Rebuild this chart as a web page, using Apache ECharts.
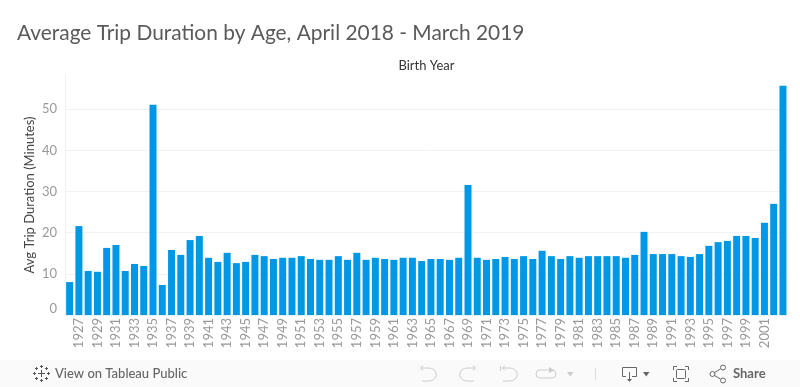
<!DOCTYPE html>
<html>
<head>
<meta charset="utf-8">
<title>Average Trip Duration by Age</title>
<style>
  html, body { margin: 0; padding: 0; background: #fff; }
  #chart { width: 800px; height: 387px; }
</style>
<script src="https://cdn.jsdelivr.net/npm/echarts@6/dist/echarts.min.js"></script>
</head>
<body>
<div id="chart"></div>
<script>
const birthYears = [
  1926, 1927, 1928, 1929, 1930, 1931, 1932, 1933, 1934, 1935, 1936, 1937, 1938,
  1939, 1940, 1941, 1942, 1943, 1944, 1945, 1946, 1947, 1948, 1949, 1950, 1951,
  1952, 1953, 1954, 1955, 1956, 1957, 1958, 1959, 1960, 1961, 1962, 1963, 1964,
  1965, 1966, 1967, 1968, 1969, 1970, 1971, 1972, 1973, 1974, 1975, 1976, 1977,
  1978, 1979, 1980, 1981, 1982, 1983, 1984, 1985, 1986, 1987, 1988, 1989, 1990,
  1991, 1992, 1993, 1994, 1995, 1996, 1997, 1998, 1999, 2000, 2001, 2002, 2003
];
const avgDuration = [
  8.0, 21.6, 10.7, 10.5, 16.3, 17.0, 10.7, 12.4, 11.9, 51.05, 7.3, 15.8, 14.6,
  18.2, 19.2, 13.9, 12.9, 15.1, 12.6, 12.9, 14.6, 14.3, 13.6, 13.9, 13.9, 14.3,
  13.6, 13.4, 13.4, 14.3, 13.4, 15.1, 13.4, 13.9, 13.6, 13.4, 13.9, 13.9, 13.1,
  13.6, 13.6, 13.4, 13.9, 31.6, 13.9, 13.4, 13.6, 14.1, 13.6, 14.3, 13.6, 15.6,
  14.3, 13.6, 14.3, 13.9, 14.3, 14.3, 14.3, 14.3, 13.9, 14.6, 20.2, 14.8, 14.8,
  14.8, 14.3, 14.1, 14.8, 16.8, 17.7, 18.0, 19.2, 19.2, 18.7, 22.4, 27.0, 55.7
];

const FONT = 'Lato, "Open Sans", sans-serif';
const ICON_ON = '#666666';
const ICON_OFF = '#cccccc';

// toolbar icons are plain strokes, nothing here is chart data
function stroke(color) {
  return { stroke: color, fill: 'none', lineWidth: 1 };
}
function poly(points, color) {
  return { type: 'polyline', shape: { points: points }, style: stroke(color), silent: true };
}
function tri(points, color) {
  return { type: 'polygon', shape: { points: points }, style: { fill: color }, silent: true };
}
function cross(x, y, r, color) {
  return [poly([[x - r, y], [x + r, y]], color), poly([[x, y - r], [x, y + r]], color)];
}
// half-loop used by the undo/redo arrows, dir 1 bulges right, -1 bulges left
function loop(x, y, dir, color) {
  return {
    type: 'bezierCurve',
    shape: { x1: x, y1: y, cpx1: x + dir * 11, cpy1: y, cpx2: x + dir * 11, cpy2: y + 13, x2: x, y2: y + 13 },
    style: stroke(color),
    silent: true
  };
}

const logo = [].concat(
  cross(41.5, 373.5, 3.5, '#555'),
  cross(41.5, 366.5, 1.5, '#555'),
  cross(41.5, 380.5, 1.5, '#555'),
  cross(34.5, 373.5, 1.5, '#555'),
  cross(48.5, 373.5, 1.5, '#555'),
  cross(36.5, 368.5, 1.5, '#555'),
  cross(46.5, 368.5, 1.5, '#555'),
  cross(36.5, 378.5, 1.5, '#555'),
  cross(46.5, 378.5, 1.5, '#555')
);

const toolbar = [
  { type: 'rect', shape: { x: 0, y: 360, width: 800, height: 27 }, style: { fill: '#fafafa' }, silent: true },
  { type: 'text', x: 55, y: 374, style: { text: 'View on Tableau Public', fill: '#666', font: '500 13px ' + FONT, verticalAlign: 'middle' } },
  // undo / redo / revert / refresh
  poly([[421, 368], [428, 368]], ICON_OFF),
  loop(428, 368, 1, ICON_OFF),
  poly([[422, 381], [428, 381]], ICON_OFF),
  poly([[423, 365.5], [420.5, 368], [423, 370.5]], ICON_OFF),
  poly([[475, 368], [468, 368]], ICON_OFF),
  loop(468, 368, -1, ICON_OFF),
  poly([[468, 381], [474, 381]], ICON_OFF),
  poly([[473, 365.5], [475.5, 368], [473, 370.5]], ICON_OFF),
  poly([[502, 368], [509, 368]], ICON_OFF),
  loop(509, 368, 1, ICON_OFF),
  poly([[503, 381], [509, 381]], ICON_OFF),
  poly([[500.5, 366], [500.5, 371]], ICON_OFF),
  poly([[505, 365.5], [502.5, 368], [505, 370.5]], ICON_OFF),
  { type: 'rect', shape: { x: 536, y: 370, width: 20, height: 8, r: 4 }, style: stroke(ICON_OFF), silent: true },
  tri([[549, 367], [554, 370], [549, 373]], ICON_OFF),
  tri([[567, 372], [573.5, 372], [570.2, 376.5]], ICON_OFF),
  poly([[595.5, 368], [595.5, 380]], '#dddddd'),
  // download
  poly([[626, 376.5], [622.5, 376.5], [622.5, 367.5], [636.5, 367.5], [636.5, 376.5], [632, 376.5]], ICON_ON),
  poly([[629.5, 372], [629.5, 380]], ICON_ON),
  tri([[627, 379], [632, 379], [629.5, 382]], ICON_ON),
  tri([[643, 372], [649.5, 372], [646.2, 376.5]], ICON_ON),
  // fullscreen
  poly([[673.5, 370], [673.5, 366.5], [677, 366.5]], ICON_ON),
  poly([[685, 366.5], [688.5, 366.5], [688.5, 370]], ICON_ON),
  poly([[673.5, 378], [673.5, 381.5], [677, 381.5]], ICON_ON),
  poly([[685, 381.5], [688.5, 381.5], [688.5, 378]], ICON_ON),
  { type: 'rect', shape: { x: 676.5, y: 369.5, width: 9, height: 9, r: 1 }, style: stroke(ICON_ON), silent: true },
  // share
  poly([[714.5, 372.5], [720.5, 369]], ICON_ON),
  poly([[714.5, 375.5], [720.5, 379]], ICON_ON),
  { type: 'circle', shape: { cx: 712.5, cy: 374, r: 2.5 }, style: stroke(ICON_ON), silent: true },
  { type: 'circle', shape: { cx: 723, cy: 367.5, r: 2.5 }, style: stroke(ICON_ON), silent: true },
  { type: 'circle', shape: { cx: 723, cy: 380.5, r: 2.5 }, style: stroke(ICON_ON), silent: true },
  { type: 'text', x: 733, y: 374, style: { text: 'Share', fill: '#666', font: '700 13px ' + FONT, verticalAlign: 'middle' } }
].concat(logo);

const chart = echarts.init(document.getElementById('chart'), null, { renderer: 'canvas' });
chart.setOption({
  animation: false,
  backgroundColor: '#ffffff',
  textStyle: { fontFamily: FONT },
  title: [
    {
      text: 'Average Trip Duration by Age, April 2018 - March 2019',
      left: 12, top: 18,
      textStyle: { fontFamily: FONT, fontSize: 20.9, fontWeight: 'normal', color: '#5a5a5a' }
    },
    {
      text: 'Birth Year',
      left: 421.5, top: 54, textAlign: 'center',
      textStyle: { fontFamily: FONT, fontSize: 13, fontWeight: 'normal', color: '#333333' }
    }
  ],
  grid: { left: 65, right: 12.4, top: 75, bottom: 72 },
  xAxis: {
    type: 'category',
    data: birthYears,
    axisTick: { show: false },
    axisLine: { show: true, lineStyle: { color: '#eeeeee' } },
    axisLabel: {
      rotate: 90,
      // every second year, starting at 1927
      interval: function (i) { return i % 2 === 1 && birthYears[i] <= 2001; },
      color: '#999999',
      fontSize: 13,
      margin: 3
    }
  },
  yAxis: {
    type: 'value',
    min: 0,
    max: 58.3,
    interval: 10,
    name: 'Avg Trip Duration (Minutes)',
    nameLocation: 'middle',
    nameGap: 29,
    nameMoveOverlap: false,
    nameTextStyle: { color: '#444444', fontSize: 13 },
    axisTick: { show: false },
    axisLine: { show: true, lineStyle: { color: '#f0f0f0' } },
    splitLine: { show: true, showMinLine: false, showMaxLine: false, lineStyle: { color: '#f2f2f2' } },
    axisLabel: {
      color: '#999999',
      fontSize: 13,
      margin: 8,
      showMaxLabel: false,
      verticalAlignMinLabel: 'bottom'
    }
  },
  series: [{
    name: 'Avg Trip Duration',
    type: 'bar',
    data: avgDuration,
    barWidth: 7,
    itemStyle: { color: '#0098e6' }
  }],
  graphic: toolbar
});
</script>
</body>
</html>
